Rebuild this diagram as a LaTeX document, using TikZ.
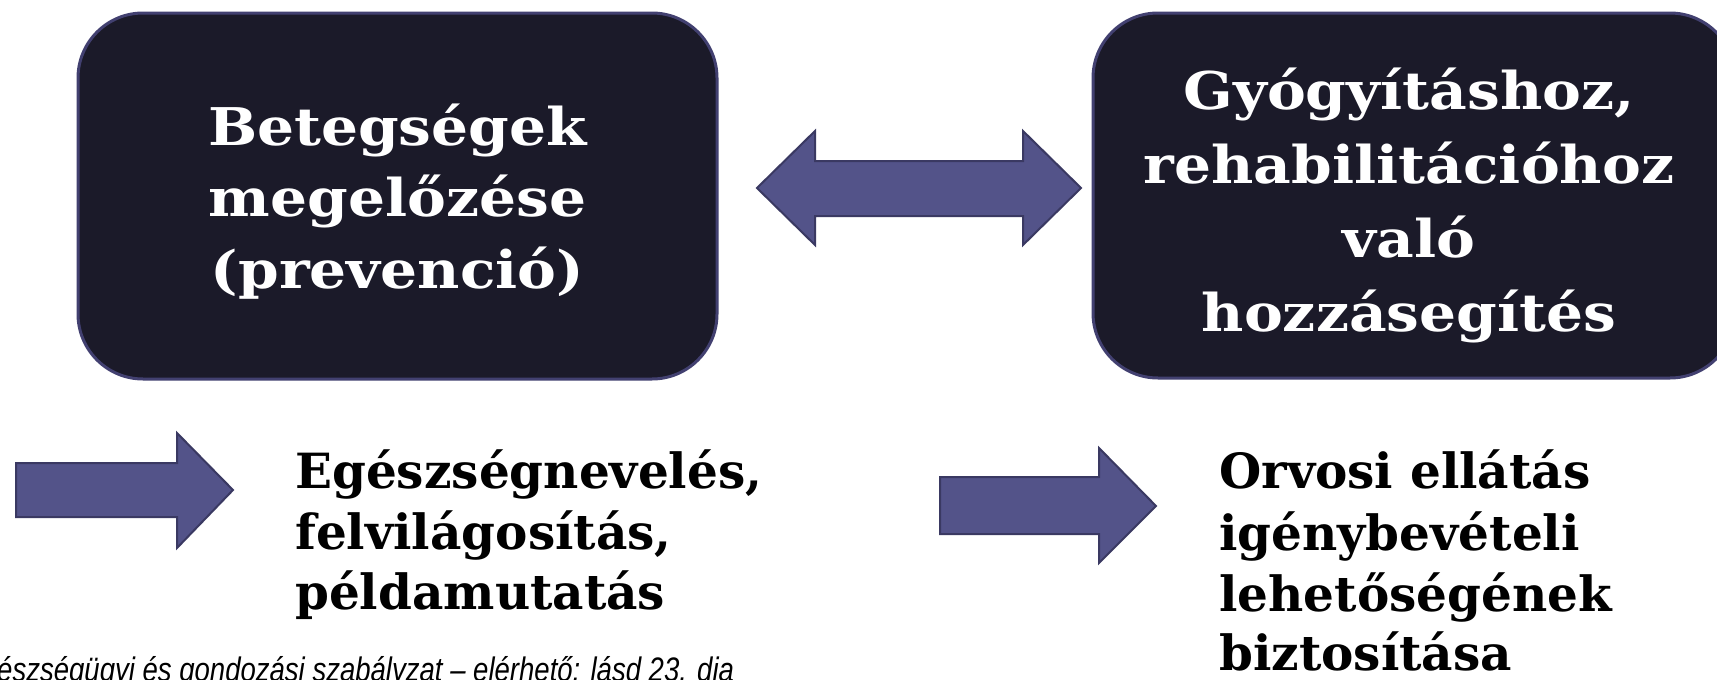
\documentclass[tikz,border=0pt]{standalone}
\usepackage{fontspec}
\setmainfont{DejaVu Serif}
\newfontfamily\boxfont[FakeStretch=1.12]{DejaVu Serif}
\newfontfamily\notefont[FakeStretch=0.81]{Liberation Sans}
\definecolor{boxfill}{RGB}{27,26,41}
\definecolor{boxline}{RGB}{66,64,112}
\definecolor{arrfill}{RGB}{83,83,137}
\definecolor{arrline}{RGB}{58,57,98}
\begin{document}
\begin{tikzpicture}[x=1pt,y=-1pt,
  darkbox/.style={draw=boxline, line width=3pt, fill=boxfill, rounded corners=65pt, inner sep=0pt},
  blockarrow/.style={draw=arrline, line width=2pt, fill=arrfill, line join=miter},
  boxtext/.style={text=white, font=\boxfont\bfseries\fontsize{52}{60}\selectfont, anchor=base, inner sep=0pt},
  listtext/.style={text=black, font=\bfseries\fontsize{48.5}{58}\selectfont, anchor=base west, inner sep=0pt},
  note/.style={font=\notefont\itshape\fontsize{34}{38}\selectfont, anchor=base west, inner sep=0pt}]
\useasboundingbox (0,0) rectangle (1717,680);
\clip (0,0) rectangle (1717,680);
\fill[white] (0,0) rectangle (1717,680);
% boxes
\node[darkbox, minimum width=639pt, minimum height=366pt] (prev) at (397.5,196) {};
\node[darkbox, minimum width=642pt, minimum height=365pt] (cure) at (1414,195.5) {};
% box texts
\node[boxtext] (p1) at (397.5,145) {Betegségek};
\node[boxtext] (p2) at (397.5,216) {megelőzése};
\node[boxtext] (p3) at (397.5,288) {(prevenció)};
\node[boxtext] (c1) at (1409,109) {Gyógyításhoz,};
\node[boxtext] (c2) at (1409,183) {rehabilitációhoz};
\node[boxtext] (c3) at (1409,257) {való};
\node[boxtext] (c4) at (1409,331) {hozzásegítés};
% double arrow
\draw[blockarrow] (757,188) -- (815,131) -- (815,161) -- (1023,161) -- (1023,131)
  -- (1081,188) -- (1023,245) -- (1023,216) -- (815,216) -- (815,245) -- cycle;
% bottom-left arrow
\draw[blockarrow] (16,463) -- (177,463) -- (177,433) -- (233,490) -- (177,548)
  -- (177,517) -- (16,517) -- cycle;
% bottom-right arrow
\draw[blockarrow] (940,477) -- (1099,477) -- (1099,448) -- (1156,506) -- (1099,563)
  -- (1099,534) -- (940,534) -- cycle;
% lists
\node[listtext] (e1) at (295,488) {Egészségnevelés,};
\node[listtext] (e2) at (295,549) {felvilágosítás,};
\node[listtext] (e3) at (295,609) {példamutatás};
\node[listtext] (o1) at (1219,488) {Orvosi ellátás};
\node[listtext] (o2) at (1219,550) {igénybevételi};
\node[listtext] (o3) at (1219,611) {lehetőségének};
\node[listtext] (o4) at (1219,670) {biztosítása};
% note
\node[note] (src) at (-3,681) {észségügyi és gondozási szabályzat – elérhető: lásd 23. dia};
\end{tikzpicture}
\end{document}
